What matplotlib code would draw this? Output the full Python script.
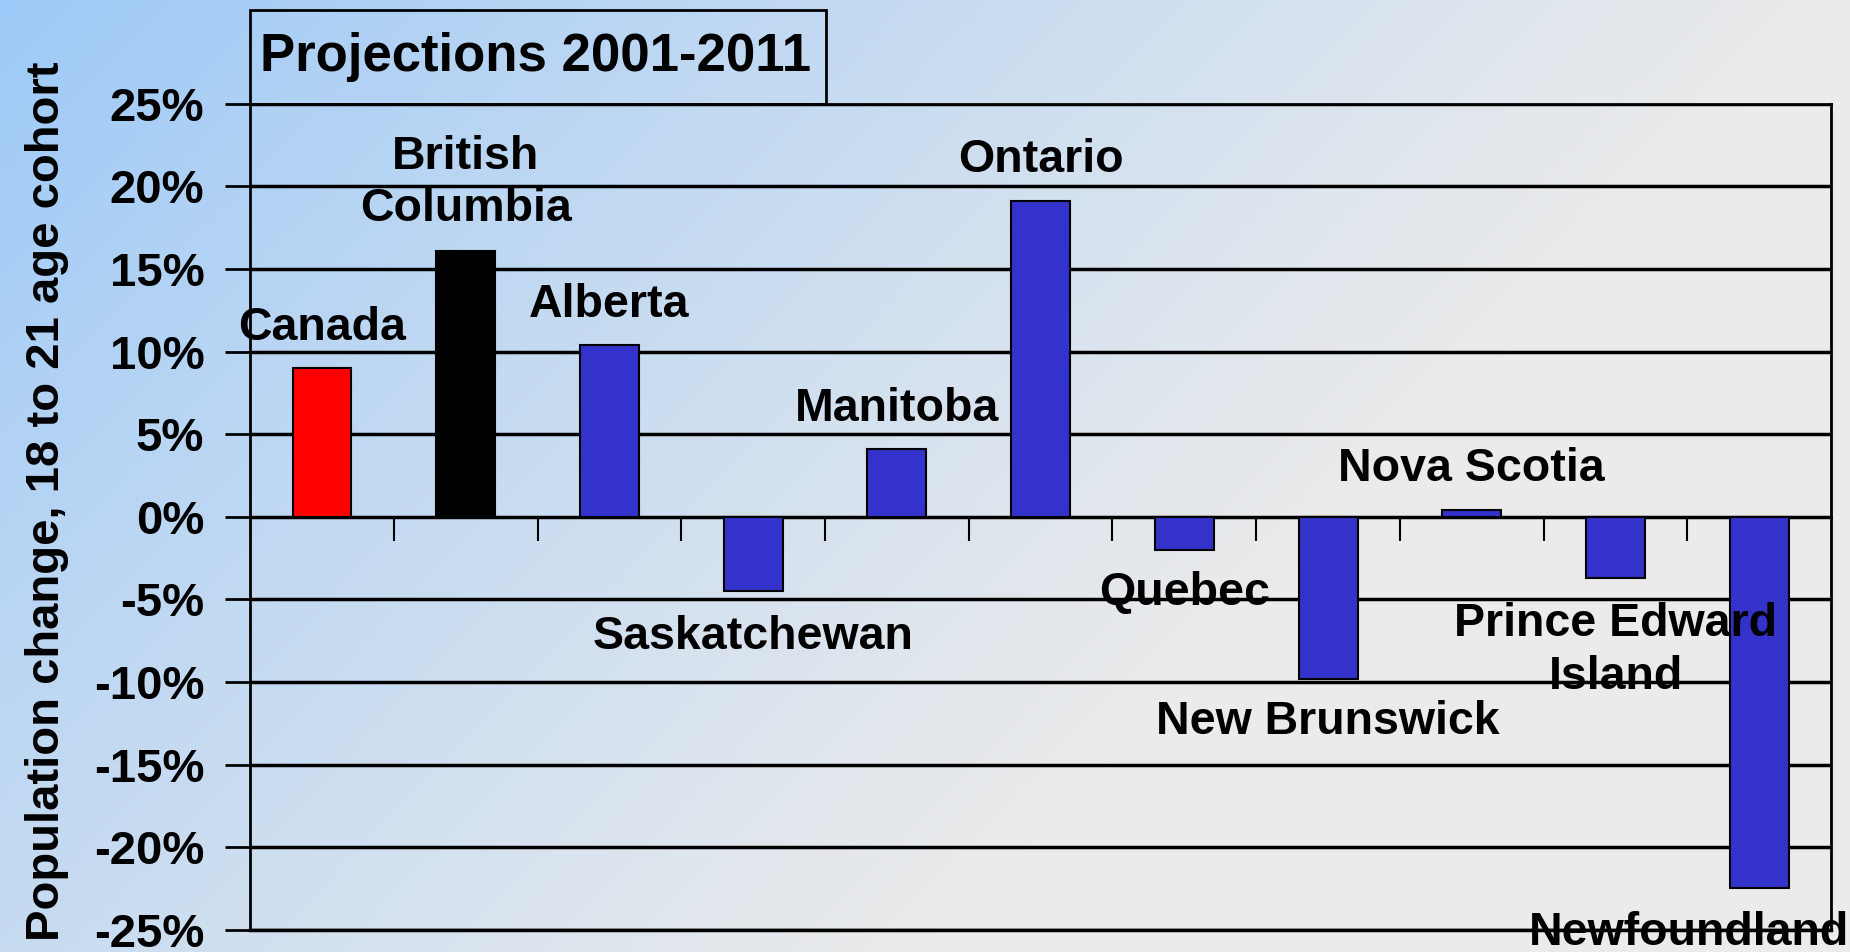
import numpy as np
import matplotlib
matplotlib.use("Agg")
import matplotlib.pyplot as plt
from matplotlib.patches import Rectangle
from matplotlib.ticker import FuncFormatter

# data
provinces = ["Canada", "British\nColumbia", "Alberta", "Saskatchewan", "Manitoba",
             "Ontario", "Quebec", "New Brunswick", "Nova Scotia",
             "Prince Edward\nIsland", "Newfoundland"]
change_pct = [9.0, 16.1, 10.4, -4.5, 4.1, 19.1, -2.0, -9.8, 0.4, -3.7, -22.5]
bar_colors = ["#FF0000", "#000000"] + ["#3333CC"] * 9
yticks = [-25, -20, -15, -10, -5, 0, 5, 10, 15, 20, 25]

# where each name label sits (layout, in axis units)
label_y = [11.4, 20.2, 12.8, -7.3, 6.5, 21.6, -4.6, -12.4, 2.9, -8.1, -25.2]
label_dx = [0, 0, 0, 0, 0, 0, 0, 0, 0, 0, -0.49]

plt.rcParams['font.family'] = ['Liberation Sans', 'DejaVu Sans']
plt.rcParams['font.weight'] = 'bold'


def main():
    fig = plt.figure(figsize=(18.5, 9.52), dpi=100)

    # gradient background: blue top-left fading to light gray
    bg = fig.add_axes([0, 0, 1, 1], zorder=-10)
    gx, gy = np.meshgrid(np.linspace(0, 1, 400), np.linspace(0, 1, 200))
    t = np.clip(gx * 1.0 + gy * 0.5, 0, 1) ** 0.9
    blue = np.array([156, 201, 248]) / 255
    gray = np.array([235, 235, 235]) / 255
    img = blue[None, None, :] * (1 - t[..., None]) + gray[None, None, :] * t[..., None]
    bg.imshow(img, aspect='auto', extent=[0, 1, 0, 1], origin='upper')
    bg.axis('off')

    ax = fig.add_axes([0.1352, 0.0234, 0.8546, 0.8676])
    ax.patch.set_alpha(0)
    x = np.arange(len(provinces))
    ax.bar(x, change_pct, width=0.41, color=bar_colors, edgecolor='black',
           linewidth=1.5, zorder=3)

    for xi, name, ly, dx in zip(x, provinces, label_y, label_dx):
        ax.text(xi + dx, ly, name, ha='center', va='center', fontsize=33.5,
                fontweight='bold', linespacing=1.25, zorder=5, clip_on=False)

    ax.set_xlim(-0.5, len(provinces) - 0.5)
    ax.set_ylim(-25, 25)
    ax.set_yticks(yticks)
    ax.yaxis.set_major_formatter(FuncFormatter(lambda v, p: f"{v:.0f}%"))
    ax.tick_params(axis='y', labelsize=34, length=18, width=2, pad=15)
    ax.yaxis.grid(True, color='black', linewidth=2.5, zorder=1)
    ax.set_axisbelow(True)

    ax.set_xticks(x[:-1] + 0.5)
    ax.set_xticklabels([])
    ax.tick_params(axis='x', direction='out', length=17, width=1.5)
    ax.spines['bottom'].set_position(('data', 0))
    ax.spines['bottom'].set_linewidth(2)
    for s in ['left', 'right', 'top']:
        ax.spines[s].set_linewidth(2)
    ax.axhline(-25, color='black', linewidth=2.5, clip_on=False, zorder=1)

    # title box
    fig.patches.append(Rectangle((0.1352, 0.8908), 0.3113, 0.0992, transform=fig.transFigure,
                                 fill=False, edgecolor='black', linewidth=2))
    fig.text(0.1405, 0.9405, "Projections 2001-2011", fontsize=38, fontweight='bold',
             ha='left', va='center')

    fig.text(0.0255, 0.474, "Population change, 18 to 21 age cohort", rotation=90,
             fontsize=34, fontweight='bold', ha='center', va='center')

    fig.savefig("out.png", dpi=100)


if __name__ == "__main__":
    main()
